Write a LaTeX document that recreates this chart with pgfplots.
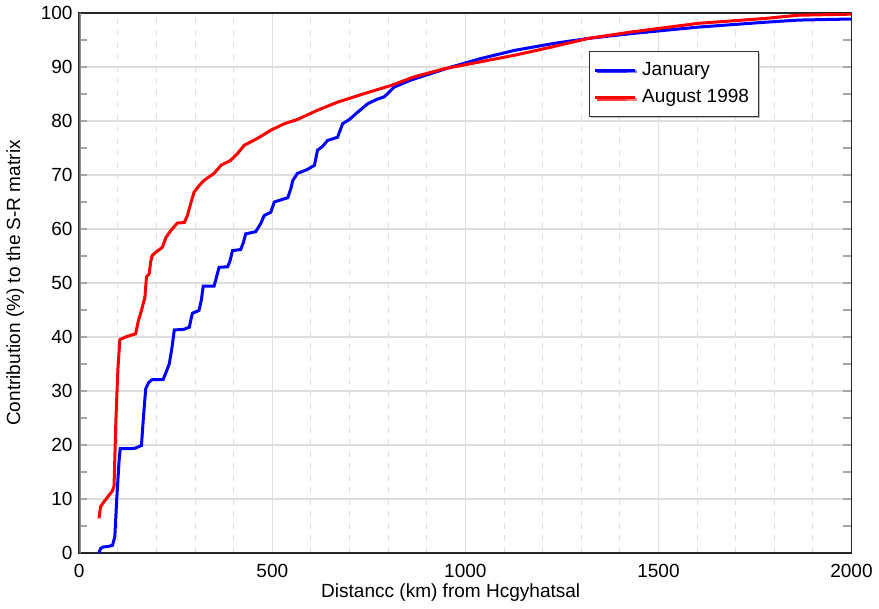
\documentclass[border=0pt]{standalone}
\usepackage{fontspec}
\setmainfont{Liberation Sans}
\usepackage{pgfplots}
\pgfplotsset{compat=1.18}
\usetikzlibrary{shadows}

\begin{document}
\fontsize{9.5}{11}\selectfont
\begin{tikzpicture}
\begin{axis}[
  scale only axis,
  width=385.5pt, height=269.5pt,
  xmin=0, xmax=2000, ymin=0, ymax=100,
  xtick={0,500,1000,1500,2000},
  ytick={0,10,...,100},
  minor xtick={100,200,...,1900},
  minor ytick={5,15,...,95},
  xmajorgrids, xminorgrids, ymajorgrids,
  major grid style={black!13, line width=0.6pt},
  minor x grid style={black!12, dashed, line width=0.5pt},
  tick align=inside,
  xtick style={draw=none},
  ytick style={black!35, line width=0.6pt},
  minor tick length=4pt,
  major tick length=4pt,
  axis line style={black!85, line width=0.8pt},
  /pgf/number format/assume math mode=true,
  /pgf/number format/1000 sep={},
  tick label style={font=\fontsize{9.5}{11}\selectfont},
  xticklabel style={yshift=-2.5pt},
  xlabel={Distancc (km) from Hcgyhatsal},
  ylabel={Contribution (\%) to the S-R matrix},
  label style={font=\fontsize{9.5}{11}\selectfont},
  xlabel style={at={(axis description cs:0.481,-0.074)}, anchor=center},
  ylabel style={at={(axis description cs:-0.083,0.5)}, anchor=center, rotate=0},
  legend style={at={(0.660,0.9295)}, anchor=north west, draw=black!80,
    line width=0.6pt, fill=white, inner xsep=2pt, inner ysep=2.5pt,
    drop shadow={shadow xshift=0.8pt, shadow yshift=-0.8pt, fill=black!50},
    font=\fontsize{9.5}{11}\selectfont, nodes={inner sep=2.8pt}},
  legend cell align=left,
  legend image code/.code={\draw[#1] (0pt,0pt) -- (15pt,0pt); \path (0pt,0pt) -- (20pt,0pt);},
]
\addplot[blue, line width=1.5pt] coordinates {
(51,0) (55,0.8) (62,1.1) (75,1.2) (86,1.4) (92,3) (97,10) (103,17) (106,19.3)
(130,19.3) (145,19.4) (161,19.9) (166,25) (172,30.4) (180,31.6) (189,32.1)
(217,32.1) (225,33.5) (233,35) (240,38) (246,41.3) (270,41.4) (285,41.8)
(290,43.5) (293,44.4) (310,44.9) (316,46.8) (321,49.4) (349,49.4) (355,51)
(362,52.9) (384,53) (390,54) (397,56) (418,56.2) (425,57.5) (431,59.1)
(457,59.5) (470,61) (479,62.5) (496,63.1) (505,65) (540,65.8) (548,67.5)
(553,69) (565,70.3) (590,71) (609,71.8) (617,74.6) (630,75.3) (643,76.4)
(669,77) (682,79.5) (700,80.3) (717,81.4) (747,83.2) (770,84) (790,84.5)
(816,86.3) (859,87.6) (911,88.8) (963,90) (1041,91.6) (1128,93.1)
(1231,94.4) (1318,95.3) (1430,96.2) (1603,97.4) (1776,98.3) (1862,98.7)
(2000,98.9)
};
\addlegendentry{January}
\addplot[red, line width=1.5pt] coordinates {
(51,6.4) (55,8.5) (62,9.3) (75,10.5) (86,11.5) (90,12.4) (95,25) (100,34)
(105,39.5) (120,40) (146,40.6) (153,43) (161,44.9) (170,47.4) (174,51.1)
(181,51.7) (185,54) (189,55.1) (200,55.8) (215,56.6) (225,58.5) (237,59.7)
(254,61.1) (272,61.2) (280,62.5) (285,63.8) (297,66.8) (310,68) (323,69)
(349,70.3) (367,71.8) (392,72.7) (410,74) (427,75.5) (462,76.8) (496,78.3)
(531,79.5) (565,80.3) (617,82) (669,83.5) (739,85.1) (808,86.6) (868,88.2)
(946,89.7) (1041,91) (1128,92.2) (1223,93.7) (1318,95.3) (1430,96.5)
(1603,98.1) (1776,99) (1862,99.6) (2000,99.8)
};
\addlegendentry{August 1998}
\draw[black!45, line width=1.5pt] (rel axis cs:0,0) -- (rel axis cs:0,1);
\end{axis}
\end{tikzpicture}
\end{document}
